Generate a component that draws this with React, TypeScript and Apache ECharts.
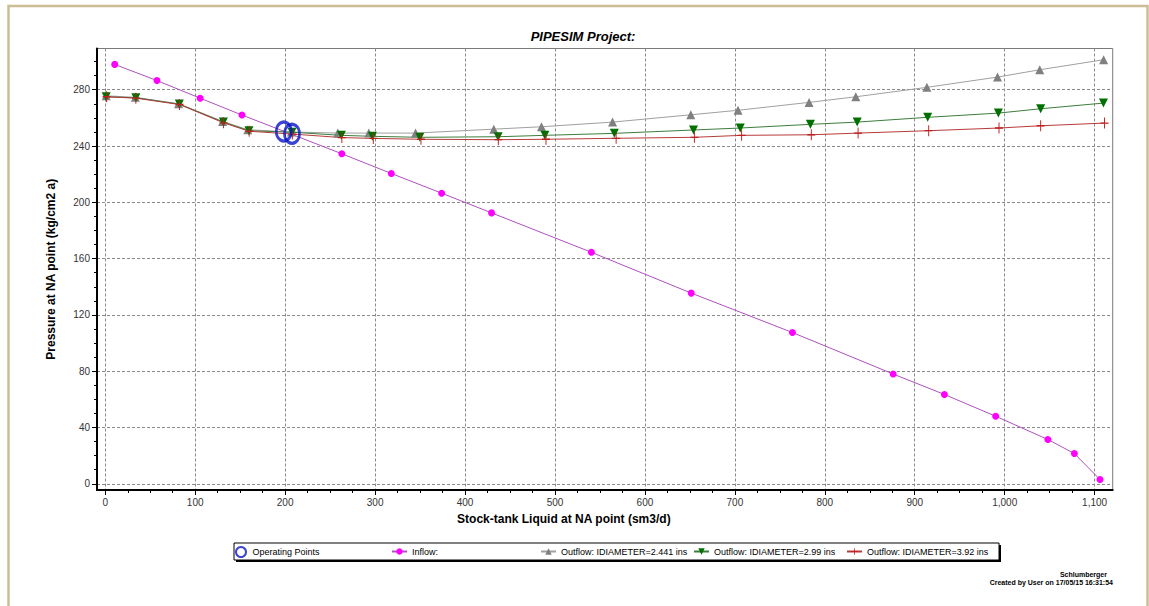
import React, { useEffect, useRef } from "react";
import * as echarts from "echarts";

// ---- data ----
const xTicks = [0, 100, 200, 300, 400, 500, 600, 700, 800, 900, 1000, 1100];
const yTicks = [0, 40, 80, 120, 160, 200, 240, 280];

const inflow: number[][] = [
  [10.5, 298], [57.5, 286.5], [105.5, 274], [152, 262], [207.5, 248.3], [263, 234.5],
  [318, 220.5], [374, 206.5], [429.5, 192.5], [540.5, 164.5], [651.5, 135.5],
  [764, 107.5], [876, 78], [933, 63.5], [990, 48], [1048, 31.5], [1077.5, 21.5], [1106, 3],
];
const outflow2441: number[][] = [
  [1, 275.7], [33.5, 274.6], [81.5, 270], [130.5, 257.5], [158.5, 251.6], [207, 250],
  [258.5, 249.2], [293, 249.2], [345, 249.2], [432, 252], [485, 253.7], [564, 257],
  [651, 262.2], [703.5, 265.4], [782.5, 271], [834.5, 275], [913.5, 281.7], [992, 289],
  [1039, 294.2], [1110, 301.3],
];
const outflow299: number[][] = [
  [1, 275], [34, 274.3], [82.3, 269.8], [131.3, 257], [159.7, 250.9], [207.6, 249.8],
  [262.5, 247.6], [297, 246.9], [349.7, 246.2], [436.8, 246.6], [488.8, 247.6], [566, 249],
  [654, 251.4], [706, 252.8], [784, 255.4], [836, 257], [914.4, 260.4], [993, 263.4],
  [1040, 266.5], [1109.8, 270.5],
];
const outflow392: number[][] = [
  [1.5, 275], [34, 274], [82.5, 269.5], [131.5, 256.5], [160, 250.5], [208, 248.5],
  [263, 246], [298, 245.4], [351, 244.8], [437, 244.5], [490, 244.8], [568, 245.5],
  [655, 246.2], [707.5, 247.6], [785, 248], [837, 249.2], [915.5, 250.9], [993.7, 252.8],
  [1040, 254.4], [1111, 256.3],
];
const operatingPoints: number[][] = [[198.5, 250.3], [207.6, 248.7]];

const seriesNames = [
  "Operating Points",
  "Inflow:",
  "Outflow: IDIAMETER=2.441 ins",
  "Outflow: IDIAMETER=2.99 ins",
  "Outflow: IDIAMETER=3.92 ins",
];

const FONT = "'Liberation Sans', Arial, sans-serif";
const PLUS = "path://M4.4,0h1.2v4.4h4.4v1.2h-4.4v4.4h-1.2v-4.4h-4.4v-1.2h4.4z";

const fmt = (v: number) => String(v).replace(/\B(?=(\d{3})+(?!\d))/g, ",");

export default function App() {
  const ref = useRef<HTMLDivElement>(null);
  useEffect(() => {
    if (!ref.current) return;
    const chart = echarts.init(ref.current, undefined, { renderer: "svg" });
    const xMinor: number[] = [];
    for (let v = 0; v <= 1100; v += 25) xMinor.push(v);
    const yMinor: number[] = [];
    for (let v = 0; v <= 300; v += 10) yMinor.push(v);

    const xMin = -9.2, xMax = 1120.1, yMin = -4.4, yMax = 309.3;

    const legendPos = [
      { left: 235, w: 13, h: 10 },
      { left: 391, w: 15, h: 8 },
      { left: 540, w: 15, h: 8 },
      { left: 693, w: 15, h: 8 },
      { left: 846, w: 15, h: 8 },
    ];

    const inflowData = inflow.map((p, i) =>
      i === 4 ? { value: p, symbol: "none" } : p
    );

    chart.setOption({
      animation: false,
      backgroundColor: "#ffffff",
      title: {
        text: "PIPESIM Project:",
        left: 578,
        textAlign: "center",
        top: 25,
        textStyle: { fontFamily: FONT, fontStyle: "italic", fontWeight: "bold", fontSize: 13, color: "#000" },
      },
      legend: seriesNames.map((n, i) => ({
        data: [n],
        left: legendPos[i].left,
        top: 546,
        padding: 0,
        itemWidth: legendPos[i].w,
        itemHeight: legendPos[i].h,
        z: 10,
        textStyle: { fontFamily: FONT, fontSize: 9, color: "#000", lineHeight: 11 },
        selectedMode: false,
      })),
      grid: {
        left: 97,
        top: 48.5,
        width: 1015.7,
        height: 441.5,
        show: true,
        borderColor: "#7a7a7a",
        borderWidth: 1,
        backgroundColor: "#fff",
      },
      xAxis: [
        {
          type: "value",
          min: xMin,
          max: xMax,
          position: "bottom",
          name: "Stock-tank Liquid at NA point (sm3/d)",
          nameLocation: "middle",
          nameGap: 23,
          nameTextStyle: { fontFamily: FONT, fontWeight: "bold", fontSize: 12, color: "#000", padding: [0, 82, 0, 0] },
          axisLine: { show: true, onZero: false, lineStyle: { color: "#000", width: 2 } },
          axisTick: { show: true, length: 5, customValues: xTicks, lineStyle: { color: "#000" } },
          axisLabel: { customValues: xTicks, formatter: fmt, margin: 7, fontFamily: FONT, fontSize: 10, color: "#333" },
          splitLine: { show: true, lineStyle: { color: "#8a8a8a", type: [3, 2], width: 1 } },
        },
        {
          type: "value",
          min: xMin,
          max: xMax,
          position: "bottom",
          axisLine: { show: false, onZero: false },
          axisTick: { show: true, length: 3, customValues: xMinor, lineStyle: { color: "#000" } },
          axisLabel: { show: false },
          splitLine: { show: false },
        },
      ],
      yAxis: [
        {
          type: "value",
          min: yMin,
          max: yMax,
          position: "left",
          name: "Pressure at NA point (kg/cm2 a)",
          nameLocation: "middle",
          nameGap: 40,
          nameTextStyle: { fontFamily: FONT, fontWeight: "bold", fontSize: 12, color: "#000" },
          axisLine: { show: true, onZero: false, lineStyle: { color: "#000", width: 2 } },
          axisTick: { show: true, length: 5, customValues: yTicks, lineStyle: { color: "#000" } },
          axisLabel: { customValues: yTicks, margin: 7, fontFamily: FONT, fontSize: 10, color: "#333" },
          splitLine: { show: true, lineStyle: { color: "#8a8a8a", type: [3, 2], width: 1 } },
        },
        {
          type: "value",
          min: yMin,
          max: yMax,
          position: "left",
          axisLine: { show: false, onZero: false },
          axisTick: { show: true, length: 3, customValues: yMinor, lineStyle: { color: "#000" } },
          axisLabel: { show: false },
          splitLine: { show: false },
        },
      ],
      series: [
        {
          name: seriesNames[1],
          type: "line",
          data: inflowData,
          symbol: "circle",
          symbolSize: 7,
          clip: false,
          lineStyle: { color: "#b050c0", width: 1 },
          itemStyle: { color: "#ff00ff" },
          z: 3,
        },
        {
          name: seriesNames[2],
          type: "line",
          data: outflow2441,
          symbol: "triangle",
          symbolSize: 9,
          clip: false,
          lineStyle: { color: "#a0a0a0", width: 1 },
          itemStyle: { color: "#808080" },
          z: 3,
        },
        {
          name: seriesNames[3],
          type: "line",
          data: outflow299,
          symbol: "triangle",
          symbolRotate: 180,
          symbolSize: 9,
          clip: false,
          lineStyle: { color: "#3d7d3d", width: 1 },
          itemStyle: { color: "#007000" },
          z: 3,
        },
        {
          name: seriesNames[4],
          type: "line",
          data: outflow392,
          symbol: PLUS,
          symbolSize: [8, 11],
          clip: false,
          lineStyle: { color: "#b83a3a", width: 1 },
          itemStyle: { color: "#c02020" },
          z: 3,
        },
        {
          name: seriesNames[0],
          type: "scatter",
          data: operatingPoints,
          symbol: "circle",
          symbolSize: [15, 19],
          clip: false,
          itemStyle: { color: "rgba(0,0,0,0)", borderColor: "#0a14c8", borderWidth: 3 },
          z: 4,
        },
      ],
      graphic: [
        {
          type: "rect",
          z: -10,
          silent: true,
          shape: { x: 8.5, y: 6, width: 1139, height: 700 },
          style: { fill: "none", stroke: "#cbbd94", lineWidth: 2.5 },
        },
        {
          type: "rect",
          z: 1,
          silent: true,
          shape: { x: 236, y: 545, width: 765, height: 17 },
          style: { fill: "#000" },
        },
        {
          type: "rect",
          z: 2,
          silent: true,
          shape: { x: 234, y: 543, width: 765, height: 17 },
          style: { fill: "#fff", stroke: "#000", lineWidth: 1 },
        },
        {
          type: "text",
          z: 5,
          x: 1107,
          y: 574,
          style: {
            text: "Schlumberger",
            align: "right",
            verticalAlign: "middle",
            font: "bold 7px 'Liberation Sans', Arial, sans-serif",
            fill: "#000",
          },
        },
        {
          type: "text",
          z: 5,
          x: 1113,
          y: 582,
          style: {
            text: "Created by User on 17/05/15 16:31:54",
            align: "right",
            verticalAlign: "middle",
            font: "bold 7px 'Liberation Sans', Arial, sans-serif",
            fill: "#000",
          },
        },
      ],
    });
    return () => chart.dispose();
  }, []);
  return (
    <div
      ref={ref}
      style={{ position: "absolute", left: 0, top: 0, width: 1149, height: 606 }}
    />
  );
}
